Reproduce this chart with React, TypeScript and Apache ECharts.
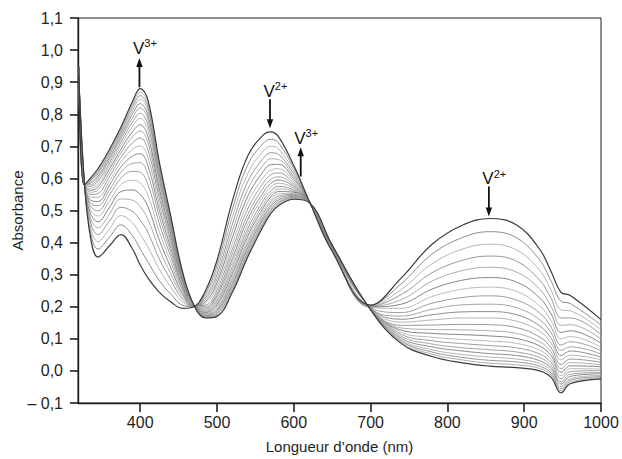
import React, { useEffect, useRef } from 'react';
import * as echarts from 'echarts';

// Wavelength grid (nm) shared by every spectrum
const wavelengths = [320, 327, 335, 345, 360, 375, 390, 400, 410, 425, 440, 455, 470, 485, 500, 520, 540, 560, 570, 580, 600, 620, 650, 700, 740, 780, 820, 855, 890, 920, 935, 948, 960, 1000];

// Absorbance table: one row per wavelength, one column per recorded spectrum
// (column 0 = first spectrum, V2+ rich; last column = final spectrum, V3+ rich)
const absorbanceRows = [
  [0.92, 0.923, 0.925, 0.928, 0.93, 0.932, 0.934, 0.936, 0.937, 0.939, 0.94, 0.942, 0.943, 0.944, 0.945, 0.946, 0.947, 0.948, 0.948, 0.949, 0.949, 0.95],
  [0.6, 0.598, 0.597, 0.595, 0.593, 0.592, 0.591, 0.59, 0.588, 0.587, 0.587, 0.586, 0.585, 0.584, 0.583, 0.583, 0.582, 0.582, 0.581, 0.581, 0.58, 0.58],
  [0.42, 0.436, 0.452, 0.466, 0.479, 0.492, 0.504, 0.515, 0.524, 0.533, 0.542, 0.55, 0.557, 0.563, 0.569, 0.575, 0.58, 0.585, 0.589, 0.593, 0.596, 0.6],
  [0.355, 0.38, 0.403, 0.425, 0.446, 0.465, 0.483, 0.499, 0.515, 0.528, 0.541, 0.553, 0.564, 0.574, 0.583, 0.592, 0.6, 0.607, 0.614, 0.619, 0.625, 0.63],
  [0.39, 0.417, 0.443, 0.467, 0.489, 0.51, 0.53, 0.548, 0.564, 0.579, 0.593, 0.606, 0.618, 0.629, 0.639, 0.648, 0.657, 0.665, 0.672, 0.678, 0.684, 0.69],
  [0.425, 0.455, 0.484, 0.51, 0.536, 0.559, 0.581, 0.601, 0.619, 0.636, 0.651, 0.666, 0.68, 0.691, 0.703, 0.713, 0.723, 0.732, 0.74, 0.747, 0.753, 0.76],
  [0.38, 0.421, 0.461, 0.497, 0.532, 0.564, 0.594, 0.622, 0.647, 0.67, 0.691, 0.711, 0.73, 0.746, 0.762, 0.776, 0.789, 0.801, 0.812, 0.822, 0.831, 0.84],
  [0.33, 0.38, 0.426, 0.47, 0.512, 0.55, 0.586, 0.619, 0.649, 0.677, 0.701, 0.726, 0.748, 0.767, 0.787, 0.803, 0.82, 0.833, 0.847, 0.858, 0.869, 0.88],
  [0.29, 0.34, 0.387, 0.432, 0.473, 0.512, 0.548, 0.581, 0.612, 0.64, 0.665, 0.69, 0.712, 0.731, 0.751, 0.767, 0.784, 0.798, 0.812, 0.823, 0.834, 0.845],
  [0.245, 0.281, 0.316, 0.348, 0.379, 0.407, 0.433, 0.458, 0.48, 0.5, 0.518, 0.537, 0.553, 0.567, 0.581, 0.593, 0.605, 0.616, 0.626, 0.634, 0.642, 0.65],
  [0.215, 0.239, 0.261, 0.283, 0.302, 0.321, 0.338, 0.354, 0.369, 0.382, 0.394, 0.406, 0.416, 0.426, 0.435, 0.443, 0.451, 0.457, 0.464, 0.469, 0.475, 0.48],
  [0.195, 0.205, 0.215, 0.224, 0.233, 0.241, 0.248, 0.255, 0.262, 0.267, 0.273, 0.278, 0.282, 0.286, 0.29, 0.294, 0.297, 0.3, 0.303, 0.305, 0.308, 0.31],
  [0.2, 0.2, 0.201, 0.201, 0.202, 0.202, 0.202, 0.203, 0.203, 0.203, 0.203, 0.204, 0.204, 0.204, 0.204, 0.204, 0.204, 0.205, 0.205, 0.205, 0.205, 0.205],
  [0.25, 0.242, 0.235, 0.228, 0.222, 0.216, 0.21, 0.205, 0.201, 0.196, 0.193, 0.189, 0.185, 0.182, 0.179, 0.177, 0.174, 0.172, 0.17, 0.168, 0.167, 0.165],
  [0.345, 0.329, 0.314, 0.3, 0.287, 0.275, 0.264, 0.253, 0.243, 0.235, 0.227, 0.219, 0.212, 0.206, 0.2, 0.194, 0.189, 0.185, 0.18, 0.177, 0.173, 0.17],
  [0.53, 0.504, 0.48, 0.457, 0.436, 0.416, 0.397, 0.38, 0.365, 0.35, 0.338, 0.325, 0.313, 0.303, 0.293, 0.285, 0.276, 0.269, 0.262, 0.256, 0.251, 0.245],
  [0.67, 0.642, 0.615, 0.59, 0.566, 0.544, 0.524, 0.505, 0.487, 0.472, 0.457, 0.443, 0.431, 0.42, 0.409, 0.399, 0.39, 0.382, 0.374, 0.368, 0.361, 0.355],
  [0.735, 0.709, 0.685, 0.662, 0.641, 0.621, 0.602, 0.585, 0.57, 0.555, 0.543, 0.53, 0.518, 0.508, 0.498, 0.49, 0.481, 0.474, 0.467, 0.461, 0.456, 0.45],
  [0.745, 0.722, 0.7, 0.68, 0.661, 0.643, 0.626, 0.611, 0.597, 0.584, 0.573, 0.561, 0.551, 0.542, 0.533, 0.526, 0.518, 0.512, 0.505, 0.5, 0.495, 0.49],
  [0.73, 0.711, 0.692, 0.675, 0.659, 0.644, 0.63, 0.617, 0.605, 0.595, 0.585, 0.575, 0.567, 0.559, 0.552, 0.545, 0.539, 0.533, 0.528, 0.524, 0.519, 0.515],
  [0.64, 0.631, 0.622, 0.613, 0.605, 0.598, 0.591, 0.585, 0.579, 0.574, 0.569, 0.564, 0.56, 0.557, 0.553, 0.55, 0.547, 0.544, 0.541, 0.539, 0.537, 0.535],
  [0.53, 0.53, 0.529, 0.529, 0.528, 0.528, 0.528, 0.527, 0.527, 0.527, 0.527, 0.526, 0.526, 0.526, 0.526, 0.526, 0.526, 0.525, 0.525, 0.525, 0.525, 0.525],
  [0.372, 0.374, 0.376, 0.377, 0.379, 0.38, 0.381, 0.383, 0.384, 0.385, 0.386, 0.386, 0.387, 0.388, 0.389, 0.389, 0.39, 0.39, 0.391, 0.391, 0.392, 0.392],
  [0.205, 0.204, 0.202, 0.201, 0.2, 0.199, 0.198, 0.197, 0.196, 0.196, 0.195, 0.194, 0.194, 0.193, 0.193, 0.192, 0.192, 0.191, 0.191, 0.191, 0.19, 0.19],
  [0.29, 0.272, 0.254, 0.238, 0.222, 0.208, 0.195, 0.182, 0.171, 0.161, 0.152, 0.142, 0.134, 0.127, 0.12, 0.114, 0.108, 0.102, 0.097, 0.093, 0.089, 0.085],
  [0.395, 0.364, 0.334, 0.306, 0.28, 0.255, 0.232, 0.211, 0.192, 0.175, 0.159, 0.143, 0.129, 0.117, 0.105, 0.094, 0.084, 0.075, 0.066, 0.059, 0.052, 0.045],
  [0.455, 0.416, 0.38, 0.345, 0.313, 0.283, 0.255, 0.229, 0.206, 0.184, 0.165, 0.145, 0.128, 0.113, 0.098, 0.085, 0.072, 0.062, 0.051, 0.042, 0.034, 0.025],
  [0.475, 0.434, 0.395, 0.358, 0.323, 0.291, 0.261, 0.234, 0.208, 0.185, 0.165, 0.144, 0.125, 0.109, 0.093, 0.079, 0.066, 0.054, 0.043, 0.033, 0.024, 0.015],
  [0.455, 0.415, 0.377, 0.342, 0.308, 0.277, 0.248, 0.221, 0.197, 0.175, 0.155, 0.135, 0.117, 0.101, 0.086, 0.072, 0.059, 0.048, 0.037, 0.028, 0.019, 0.01],
  [0.38, 0.346, 0.314, 0.283, 0.255, 0.228, 0.203, 0.181, 0.16, 0.141, 0.124, 0.106, 0.091, 0.078, 0.065, 0.053, 0.042, 0.032, 0.023, 0.015, 0.008, 0.0],
  [0.31, 0.28, 0.252, 0.226, 0.201, 0.178, 0.157, 0.137, 0.119, 0.102, 0.087, 0.072, 0.059, 0.048, 0.036, 0.026, 0.016, 0.008, 0.0, -0.007, -0.013, -0.02],
  [0.245, 0.217, 0.19, 0.165, 0.142, 0.12, 0.1, 0.081, 0.064, 0.048, 0.034, 0.02, 0.007, -0.004, -0.015, -0.024, -0.034, -0.041, -0.049, -0.056, -0.062, -0.068],
  [0.235, 0.21, 0.187, 0.165, 0.144, 0.125, 0.107, 0.091, 0.075, 0.062, 0.049, 0.037, 0.026, 0.016, 0.007, -0.002, -0.01, -0.017, -0.024, -0.029, -0.035, -0.04],
  [0.16, 0.143, 0.128, 0.113, 0.099, 0.086, 0.074, 0.063, 0.053, 0.043, 0.035, 0.027, 0.019, 0.013, 0.006, 0.001, -0.005, -0.009, -0.014, -0.018, -0.021, -0.025],
];

const xTickValues = [400, 500, 600, 700, 800, 900, 1000];

const xAxisTitle = 'Longueur d\u2019onde (nm)';
const yAxisTitle = 'Absorbance';

// Arrow annotations: ion, charge, wavelength, arrow tail value, arrow tip value, label baseline value
const annotationIons = ['V', 'V', 'V', 'V'];
const annotationCharges = ['3+', '2+', '3+', '2+'];
const annotationX = [399, 569, 609, 854];
const annotationTail = [0.884, 0.847, 0.606, 0.575];
const annotationTip = [0.975, 0.756, 0.697, 0.481];
const annotationLabelBase = [0.99, 0.856, 0.709, 0.584];

const FONT = '"Liberation Sans", Arial, Helvetica, sans-serif';
const INK = '#1f1f1f';
const GRAYS = ['#8e8e8e', '#707070', '#a2a2a2', '#7e7e7e', '#979797', '#666666', '#aaaaaa', '#858585'];

function formatY(v: number): string {
  const r = Math.round(v * 10) / 10;
  if (r < 0) return '\u2013 ' + Math.abs(r).toFixed(1).replace('.', ',');
  return r.toFixed(1).replace('.', ',');
}

function formatX(v: number): string {
  return String(Math.round(v));
}

export default function App() {
  const ref = useRef<HTMLDivElement>(null);

  useEffect(() => {
    if (!ref.current) return;
    const chart = echarts.init(ref.current, undefined, { renderer: 'svg' });

    const source = wavelengths.map((w, i) => [w, ...absorbanceRows[i]]);
    const nCurves = absorbanceRows[0].length;

    const series: any[] = [];
    for (let k = 0; k < nCurves; k++) {
      const outer = k === 0 || k === nCurves - 1;
      series.push({
        type: 'line',
        datasetIndex: 0,
        encode: { x: 0, y: k + 1 },
        showSymbol: false,
        symbol: 'none',
        smooth: 0.4,
        silent: true,
        z: outer ? 4 : 2,
        lineStyle: {
          color: outer ? '#3a3a3a' : GRAYS[k % GRAYS.length],
          width: outer ? 1.2 : 0.8,
        },
        emphasis: { disabled: true },
      });
    }

    chart.setOption({
      animation: false,
      backgroundColor: '#ffffff',
      textStyle: { fontFamily: FONT },
      dataset: [{ source }],
      grid: {
        left: 78,
        right: 21,
        top: 18,
        bottom: 56,
        containLabel: false,
        outerBoundsMode: 'none',
        show: true,
        borderColor: INK,
        borderWidth: 1,
        backgroundColor: 'transparent',
      },
      xAxis: {
        type: 'value',
        min: 319,
        max: 1000,
        name: xAxisTitle,
        nameLocation: 'middle',
        nameGap: 36,
        nameMoveOverlap: false,
        nameTextStyle: { fontSize: 15, color: INK, fontFamily: FONT },
        axisLine: { show: true, onZero: false, lineStyle: { color: INK, width: 1.4 } },
        axisTick: { show: true, length: 9, customValues: xTickValues, lineStyle: { color: INK, width: 1.6 } },
        axisLabel: { customValues: xTickValues, fontSize: 16, color: INK, margin: 11, fontFamily: FONT, formatter: formatX },
        splitLine: { show: false },
      },
      yAxis: {
        type: 'value',
        min: -0.1,
        max: 1.1,
        interval: 0.1,
        name: yAxisTitle,
        nameLocation: 'middle',
        nameGap: 53,
        nameMoveOverlap: false,
        nameTextStyle: { fontSize: 15, color: INK, fontFamily: FONT },
        axisLine: { show: true, onZero: false, lineStyle: { color: INK, width: 1.4 } },
        axisTick: { show: true, length: 8, lineStyle: { color: INK, width: 1.6 } },
        axisLabel: { fontSize: 16, color: INK, margin: 15, fontFamily: FONT, formatter: formatY },
        splitLine: { show: false },
      },
      series,
    });

    const graphics: any[] = [];
    for (let i = 0; i < annotationX.length; i++) {
      const tail = chart.convertToPixel({ gridIndex: 0 }, [annotationX[i], annotationTail[i]]) as number[];
      const tip = chart.convertToPixel({ gridIndex: 0 }, [annotationX[i], annotationTip[i]]) as number[];
      const lab = chart.convertToPixel({ gridIndex: 0 }, [annotationX[i], annotationLabelBase[i]]) as number[];
      const px = tail[0];
      const dir = tip[1] < tail[1] ? -1 : 1; // -1: arrow points up
      const headLen = 9;
      const headHalf = 3.2;
      const baseY = tip[1] - dir * headLen;
      graphics.push({
        type: 'line',
        silent: true,
        shape: { x1: px, y1: tail[1], x2: px, y2: baseY + dir * 1 },
        style: { stroke: '#111', lineWidth: 1.8 },
        z: 10,
      });
      graphics.push({
        type: 'polygon',
        silent: true,
        shape: { points: [[px, tip[1]], [px - headHalf, baseY], [px + headHalf, baseY]] },
        style: { fill: '#111' },
        z: 10,
      });
      graphics.push({
        type: 'text',
        silent: true,
        x: px - 6.5,
        y: lab[1] + 3.5,
        z: 10,
        style: {
          text: '{v|' + annotationIons[i] + '}{s|' + annotationCharges[i] + '}',
          align: 'left',
          verticalAlign: 'bottom',
          fill: '#111',
          rich: {
            v: { fontSize: 17, lineHeight: 19, fontFamily: FONT, fill: '#111', verticalAlign: 'bottom' },
            s: { fontSize: 11, lineHeight: 13, fontFamily: FONT, fill: '#111', verticalAlign: 'top' },
          },
        },
      });
    }
    chart.setOption({ graphic: graphics });

    return () => {
      chart.dispose();
    };
  }, []);

  return (
    <div
      ref={ref}
      style={{ position: 'fixed', left: 0, top: 0, width: 622, height: 459, background: '#fff' }}
    />
  );
}
